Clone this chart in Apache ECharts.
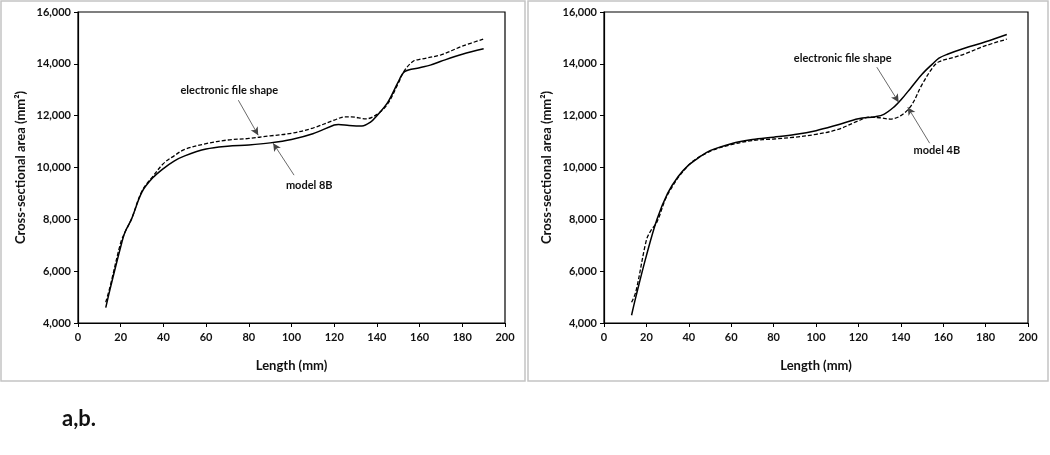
<!DOCTYPE html>
<html>
<head>
<meta charset="utf-8">
<script src="https://cdn.jsdelivr.net/npm/echarts@6/dist/echarts.min.js"></script>
<style>
html,body{margin:0;padding:0;background:#fff;}
#chart{width:1050px;height:455px;}
</style>
</head>
<body>
<div id="chart"></div>
<script>
// ---- Data ----
// Panel a: electronic file shape (dashed) vs model 8B (solid)
var aElecX = [13, 15, 20, 22, 25, 30, 35, 40, 45, 50, 60, 70, 80, 90, 100, 110, 120, 125, 128, 135, 140, 145, 150, 153, 157, 160, 170, 180, 190];
var aElecY = [4800, 5400, 7100, 7500, 8000, 9100, 9650, 10150, 10450, 10700, 10920, 11060, 11120, 11220, 11320, 11520, 11830, 11950, 11950, 11880, 12050, 12450, 13250, 13750, 14100, 14170, 14350, 14680, 14960];
var aModelX = [13, 15, 20, 22, 25, 30, 35, 40, 45, 50, 60, 70, 80, 90, 100, 110, 120, 122, 127, 133, 137, 140, 145, 150, 153, 160, 165, 170, 180, 190];
var aModelY = [4590, 5300, 6940, 7500, 8000, 9060, 9600, 9960, 10250, 10450, 10710, 10820, 10870, 10950, 11080, 11300, 11640, 11660, 11620, 11600, 11750, 12000, 12500, 13300, 13700, 13850, 13950, 14100, 14370, 14580];
// Panel b: solid line vs dashed line
var bSolidX = [13, 15, 20, 25, 30, 35, 40, 45, 50, 60, 70, 80, 90, 100, 110, 120, 128, 132, 137, 140, 145, 150, 155, 158, 162, 170, 180, 190];
var bSolidY = [4300, 5000, 6600, 8000, 9000, 9650, 10100, 10400, 10650, 10920, 11080, 11170, 11270, 11420, 11640, 11880, 11960, 12050, 12350, 12600, 13100, 13600, 14000, 14220, 14370, 14600, 14850, 15130];
var bDashX = [13, 15, 20, 22, 25, 30, 40, 50, 60, 70, 80, 90, 100, 110, 120, 125, 130, 135, 140, 145, 150, 155, 158, 165, 170, 180, 190];
var bDashY = [4800, 5200, 7200, 7550, 7900, 8950, 10100, 10620, 10880, 11040, 11100, 11170, 11280, 11460, 11800, 11940, 11920, 11870, 12000, 12400, 13200, 13850, 14080, 14250, 14380, 14700, 14950];
var labelsA = ['electronic file shape', 'model 8B'];
var labelsB = ['electronic file shape', 'model 4B'];
var xTitle = 'Length (mm)';
var yTitle = 'Cross-sectional area (mm\u00B2)';
var figLabel = 'a,b.';

function pairs(xs, ys) { return xs.map(function (x, i) { return [x, ys[i]]; }); }

var FONT = 'Lato';
var axisCommonX = function (idx) {
  return {
    type: 'value', gridIndex: idx, min: 0, max: 200, interval: 20,
    name: xTitle, nameLocation: 'middle', nameGap: 36,
    nameTextStyle: { fontFamily: FONT, fontWeight: 'bold', fontSize: 13, color: '#111' },
    axisLine: { show: true, onZero: false, lineStyle: { color: '#000', width: 1.2 } },
    axisTick: { show: true, length: 4, inside: false, lineStyle: { color: '#000' } },
    axisLabel: { fontFamily: FONT, fontWeight: 'bold', fontSize: 11, color: '#111', margin: 9 },
    splitLine: { show: false }
  };
};
var axisCommonY = function (idx, gap) {
  return {
    type: 'value', gridIndex: idx, min: 4000, max: 16000, interval: 2000,
    name: yTitle, nameLocation: 'middle', nameGap: gap, nameRotate: 90,
    nameTextStyle: { fontFamily: FONT, fontWeight: 'bold', fontSize: 13, color: '#111' },
    axisLine: { show: true, lineStyle: { color: '#000', width: 1.2 } },
    axisTick: { show: true, length: 4, lineStyle: { color: '#000' } },
    axisLabel: {
      fontFamily: FONT, fontWeight: 'bold', fontSize: 11, color: '#111', margin: 7,
      formatter: function (v) { return v.toLocaleString('en-US'); }
    },
    splitLine: { show: false }
  };
};

function lineSeries(idx, data, dashed, extra) {
  var s = {
    type: 'line', xAxisIndex: idx, yAxisIndex: idx, data: data,
    smooth: 0.35, showSymbol: false, symbol: 'none',
    lineStyle: { color: '#000', width: dashed ? 1.3 : 1.5, type: dashed ? [4, 2] : 'solid' },
    silent: true, z: 3
  };
  if (extra) for (var k in extra) s[k] = extra[k];
  return s;
}

function annot(texts, textPos, arrows) {
  return {
    markLine: {
      silent: true, symbol: ['none', 'arrow'], symbolSize: [6, 8],
      lineStyle: { color: '#444', width: 0.8, type: 'solid' },
      label: { show: false },
      data: arrows.map(function (a) { return [{ coord: a[0] }, { coord: a[1] }]; })
    },
    markPoint: {
      silent: true, symbol: 'circle', symbolSize: 0,
      label: { show: true, position: 'inside', fontFamily: FONT, fontWeight: 'bold', fontSize: 11, color: '#111', formatter: '{b}' },
      data: texts.map(function (t, i) { return { name: t, coord: textPos[i] }; })
    }
  };
}

var chart = echarts.init(document.getElementById('chart'), null, { renderer: 'canvas' });
var option = {
  animation: false,
  backgroundColor: '#fff',
  graphic: [
    { type: 'rect', shape: { x: 1, y: 1, width: 524, height: 380 }, style: { fill: 'none', stroke: '#c4c4c4', lineWidth: 1.5 }, z: 0 },
    { type: 'rect', shape: { x: 528, y: 1, width: 520, height: 380 }, style: { fill: 'none', stroke: '#c4c4c4', lineWidth: 1.5 }, z: 0 },
    { type: 'text', left: 62, top: 408, style: { text: figLabel, fontFamily: FONT, fontWeight: 'bold', fontSize: 22, fill: '#111' } }
  ],
  grid: [
    { left: 78, right: 545, top: 12, bottom: 132, show: true, borderColor: '#000', borderWidth: 1.2, backgroundColor: 'transparent' },
    { left: 604, right: 22, top: 12, bottom: 132, show: true, borderColor: '#000', borderWidth: 1.2, backgroundColor: 'transparent' }
  ],
  xAxis: [axisCommonX(0), axisCommonX(1)],
  yAxis: [axisCommonY(0, 51), axisCommonY(1, 51)],
  series: [
    lineSeries(0, pairs(aElecX, aElecY), true, annot(labelsA, [[70.9, 12982], [108.3, 9320]], [[[75.1, 12597], [84.4, 11247]], [[101.2, 9705], [91.4, 10939]]])),
    lineSeries(0, pairs(aModelX, aModelY), false),
    lineSeries(1, pairs(bSolidX, bSolidY), false, annot(labelsB, [[112.6, 14216], [157, 10669]], [[[128.7, 13869], [139.0, 12520]], [[153.6, 10939], [143.3, 12327]]])),
    lineSeries(1, pairs(bDashX, bDashY), true)
  ]
};
chart.setOption(option);
</script>
</body>
</html>
